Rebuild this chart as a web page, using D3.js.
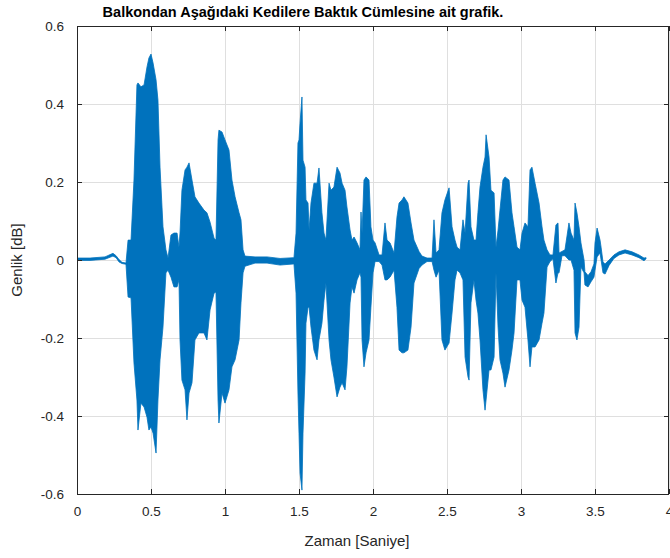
<!DOCTYPE html>
<html>
<head>
<meta charset="utf-8">
<script src="https://cdn.jsdelivr.net/npm/d3@7"></script>
<style>
  body { margin: 0; background: #fff; }
  svg { display: block; font-family: "Liberation Sans", Arial, sans-serif; }
</style>
</head>
<body>
<div class="container"></div>
<script>
const time = [
  0.000, 0.088, 0.189, 0.243, 0.264, 0.284, 0.304, 0.331, 0.345, 0.365,
  0.385, 0.405, 0.412, 0.432, 0.453, 0.473, 0.486, 0.500, 0.514, 0.534,
  0.547, 0.561, 0.581, 0.601, 0.615, 0.635, 0.655, 0.676, 0.689, 0.696,
  0.709, 0.730, 0.743, 0.757, 0.777, 0.797, 0.824, 0.858, 0.878, 0.899,
  0.926, 0.939, 0.953, 0.959, 0.980, 1.000, 1.027, 1.047, 1.068, 1.095,
  1.108, 1.122, 1.135, 1.203, 1.284, 1.372, 1.466, 1.480, 1.493, 1.500,
  1.507, 1.520, 1.527, 1.541, 1.547, 1.561, 1.568, 1.581, 1.601, 1.622,
  1.635, 1.655, 1.669, 1.682, 1.703, 1.716, 1.736, 1.757, 1.777, 1.791,
  1.811, 1.824, 1.845, 1.858, 1.872, 1.892, 1.912, 1.919, 1.926, 1.939,
  1.953, 1.973, 1.986, 2.000, 2.014, 2.041, 2.061, 2.081, 2.095, 2.115,
  2.142, 2.162, 2.176, 2.196, 2.209, 2.236, 2.257, 2.277, 2.311, 2.331,
  2.365, 2.399, 2.412, 2.426, 2.446, 2.466, 2.486, 2.514, 2.534, 2.554,
  2.568, 2.588, 2.608, 2.622, 2.642, 2.649, 2.662, 2.682, 2.696, 2.709,
  2.723, 2.743, 2.757, 2.764, 2.784, 2.797, 2.818, 2.831, 2.845, 2.858,
  2.878, 2.892, 2.919, 2.939, 2.953, 2.973, 2.993, 3.007, 3.027, 3.047,
  3.061, 3.074, 3.095, 3.122, 3.142, 3.155, 3.176, 3.196, 3.216, 3.236,
  3.250, 3.257, 3.277, 3.297, 3.324, 3.338, 3.358, 3.365, 3.378, 3.392,
  3.405, 3.426, 3.432, 3.453, 3.473, 3.493, 3.500, 3.514, 3.534, 3.541,
  3.554, 3.568, 3.595, 3.628, 3.662, 3.703, 3.750, 3.797, 3.831, 3.845
];
const upper = [
  0.005, 0.005, 0.008, 0.017, 0.011, 0.001, -0.006, -0.008, 0.051, 0.051,
  0.205, 0.449, 0.454, 0.444, 0.449, 0.495, 0.518, 0.528, 0.505, 0.462,
  0.410, 0.238, 0.085, 0.026, 0.005, 0.064, 0.069, 0.069, 0.033, 0.069,
  0.179, 0.231, 0.238, 0.249, 0.205, 0.162, 0.146, 0.128, 0.121, 0.097,
  0.056, 0.051, 0.308, 0.333, 0.328, 0.308, 0.282, 0.205, 0.162, 0.121,
  0.103, 0.026, 0.010, 0.008, 0.008, 0.004, 0.006, 0.069, 0.300, 0.308,
  0.351, 0.418, 0.256, 0.238, 0.154, 0.146, 0.077, 0.146, 0.197, 0.197,
  0.236, 0.121, 0.069, 0.051, 0.197, 0.179, 0.187, 0.238, 0.223, 0.197,
  0.179, 0.136, 0.077, 0.051, 0.059, 0.044, 0.026, 0.123, 0.069, 0.205,
  0.213, 0.205, 0.085, 0.051, 0.044, 0.013, 0.013, 0.095, 0.051, 0.044,
  0.018, 0.110, 0.146, 0.154, 0.162, 0.146, 0.095, 0.051, 0.022, 0.010,
  0.005, 0.005, 0.103, 0.018, 0.026, 0.121, 0.154, 0.185, 0.085, 0.051,
  0.033, 0.026, 0.103, 0.069, 0.197, 0.205, 0.085, 0.051, 0.051, 0.121,
  0.187, 0.238, 0.264, 0.321, 0.264, 0.179, 0.172, 0.033, 0.077, 0.128,
  0.205, 0.213, 0.205, 0.121, 0.085, 0.033, 0.026, 0.069, 0.095, 0.085,
  0.231, 0.238, 0.197, 0.146, 0.085, 0.051, 0.026, 0.013, 0.013, 0.090,
  0.095, 0.018, 0.022, 0.026, 0.095, 0.069, 0.051, 0.146, 0.121, 0.085,
  0.044, 0.000, -0.030, -0.040, -0.030, -0.010, 0.044, 0.082, 0.051, 0.033,
  -0.005, -0.010, 0.000, 0.013, 0.021, 0.026, 0.021, 0.013, 0.005, 0.006
];
const lower = [
  -0.001, -0.001, 0.002, 0.010, 0.006, -0.005, -0.009, -0.011, -0.095, -0.097,
  -0.264, -0.359, -0.436, -0.367, -0.377, -0.403, -0.436, -0.428, -0.444, -0.495,
  -0.359, -0.256, -0.172, -0.033, -0.026, -0.044, -0.069, -0.069, -0.051, -0.205,
  -0.308, -0.333, -0.410, -0.341, -0.315, -0.205, -0.187, -0.187, -0.205, -0.128,
  -0.085, -0.082, -0.359, -0.418, -0.341, -0.367, -0.333, -0.274, -0.256, -0.205,
  -0.110, -0.033, -0.016, -0.008, -0.008, -0.013, -0.010, -0.085, -0.341, -0.444,
  -0.546, -0.590, -0.444, -0.290, -0.162, -0.121, -0.121, -0.172, -0.231, -0.256,
  -0.205, -0.162, -0.103, -0.059, -0.205, -0.256, -0.300, -0.351, -0.326, -0.315,
  -0.333, -0.274, -0.110, -0.069, -0.085, -0.051, -0.033, -0.044, -0.205, -0.274,
  -0.238, -0.205, -0.121, -0.033, -0.004, -0.004, -0.013, -0.051, -0.051, -0.044,
  -0.026, -0.121, -0.231, -0.238, -0.238, -0.231, -0.172, -0.059, -0.022, -0.013,
  -0.004, -0.004, -0.026, -0.044, -0.026, -0.205, -0.231, -0.213, -0.136, -0.051,
  -0.026, -0.033, -0.051, -0.249, -0.300, -0.308, -0.110, -0.051, -0.103, -0.136,
  -0.205, -0.333, -0.385, -0.359, -0.282, -0.282, -0.249, -0.033, -0.172, -0.256,
  -0.290, -0.326, -0.282, -0.231, -0.187, -0.051, -0.051, -0.103, -0.121, -0.205,
  -0.274, -0.223, -0.223, -0.205, -0.162, -0.136, -0.018, -0.004, 0.003, -0.059,
  -0.033, -0.033, 0.011, 0.011, 0.000, 0.000, -0.026, -0.187, -0.205, -0.172,
  -0.018, -0.033, -0.064, -0.069, -0.056, -0.044, -0.026, 0.008, 0.018, 0.000,
  -0.033, -0.036, -0.014, 0.004, 0.013, 0.018, 0.013, 0.006, -0.002, 0.003
];

const xTicks = [0, 0.5, 1, 1.5, 2, 2.5, 3, 3.5, 4];
const yTicks = [-0.6, -0.4, -0.2, 0, 0.2, 0.4, 0.6];

const titleText = 'Balkondan Aşağıdaki Kedilere Baktık Cümlesine ait grafik.';
const xLabel = 'Zaman [Saniye]';
const yLabel = 'Genlik [dB]';

const width = 670;
const height = 558;
const margin = { top: 26, right: 1, bottom: 64, left: 77 };
const plotW = width - margin.left - margin.right;
const plotH = height - margin.top - margin.bottom;
const axisColor = '#262626';
const lineColor = '#0072bd';

const signal = time.map((t, i) => ({ t, hi: upper[i], lo: lower[i] }));

const x = d3.scaleLinear().domain([0, 4]).range([0, plotW]);
const y = d3.scaleLinear().domain([-0.6, 0.6]).range([plotH, 0]);

const fmtY = (d) => (d === 0 ? '0' : d3.format('.1f')(d).replace('\u2212', '-'));
const fmtX = (d) => String(d);

const svg = d3.select('.container')
  .append('svg')
  .attr('width', width)
  .attr('height', height);

const plot = svg.append('g')
  .attr('transform', `translate(${margin.left}, ${margin.top})`);

// grid
plot.append('g')
  .selectAll('line')
  .data(xTicks)
  .enter()
  .append('line')
  .attr('x1', (d) => x(d) + 0.5)
  .attr('x2', (d) => x(d) + 0.5)
  .attr('y1', 0)
  .attr('y2', plotH)
  .attr('stroke', '#dfdfdf')
  .attr('stroke-width', 1);

plot.append('g')
  .selectAll('line')
  .data(yTicks)
  .enter()
  .append('line')
  .attr('x1', 0)
  .attr('x2', plotW)
  .attr('y1', (d) => y(d) + 0.5)
  .attr('y2', (d) => y(d) + 0.5)
  .attr('stroke', '#dfdfdf')
  .attr('stroke-width', 1);

// waveform envelope
svg.append('clipPath')
  .attr('id', 'clip')
  .append('rect')
  .attr('width', plotW)
  .attr('height', plotH);

const area = d3.area()
  .x((d) => x(d.t))
  .y0((d) => y(d.lo))
  .y1((d) => y(d.hi));

plot.append('path')
  .datum(signal)
  .attr('clip-path', 'url(#clip)')
  .attr('d', area)
  .attr('fill', lineColor)
  .attr('stroke', lineColor)
  .attr('stroke-width', 0.8)
  .attr('stroke-linejoin', 'round');

// axes, ticks pointing inward
const styleAxis = (g) => {
  g.select('.domain').remove();
  g.selectAll('.tick line').attr('stroke', axisColor);
  g.selectAll('.tick text')
    .attr('fill', axisColor)
    .style('font-size', '13.5px')
    .style('font-family', '"Liberation Sans", Arial, sans-serif');
};

plot.append('g')
  .attr('transform', `translate(0, ${plotH})`)
  .call(d3.axisBottom(x).tickValues(xTicks).tickFormat(fmtX).tickSizeInner(-5).tickSizeOuter(0).tickPadding(12))
  .call(styleAxis);

plot.append('g')
  .call(d3.axisTop(x).tickValues(xTicks).tickFormat('').tickSizeInner(-5).tickSizeOuter(0))
  .call(styleAxis);

plot.append('g')
  .call(d3.axisLeft(y).tickValues(yTicks).tickFormat(fmtY).tickSizeInner(-5).tickSizeOuter(0).tickPadding(13))
  .call(styleAxis);

plot.append('g')
  .attr('transform', `translate(${plotW}, 0)`)
  .call(d3.axisRight(y).tickValues(yTicks).tickFormat('').tickSizeInner(-5).tickSizeOuter(0))
  .call(styleAxis);

plot.append('rect')
  .attr('x', 0.5)
  .attr('y', 0.5)
  .attr('width', plotW - 1)
  .attr('height', plotH)
  .attr('fill', 'none')
  .attr('stroke', axisColor)
  .attr('stroke-width', 1);

// texts
svg.append('text')
  .attr('x', 303)
  .attr('y', 17)
  .attr('text-anchor', 'middle')
  .attr('font-weight', 'bold')
  .attr('font-size', 14.5)
  .attr('fill', '#000')
  .text(titleText);

svg.append('text')
  .attr('x', 357)
  .attr('y', 546)
  .attr('text-anchor', 'middle')
  .attr('font-size', 15)
  .attr('fill', axisColor)
  .text(xLabel);

svg.append('text')
  .attr('transform', `translate(22, ${margin.top + plotH / 2}) rotate(-90)`)
  .attr('text-anchor', 'middle')
  .attr('font-size', 15)
  .attr('fill', axisColor)
  .text(yLabel);
</script>
</body>
</html>
